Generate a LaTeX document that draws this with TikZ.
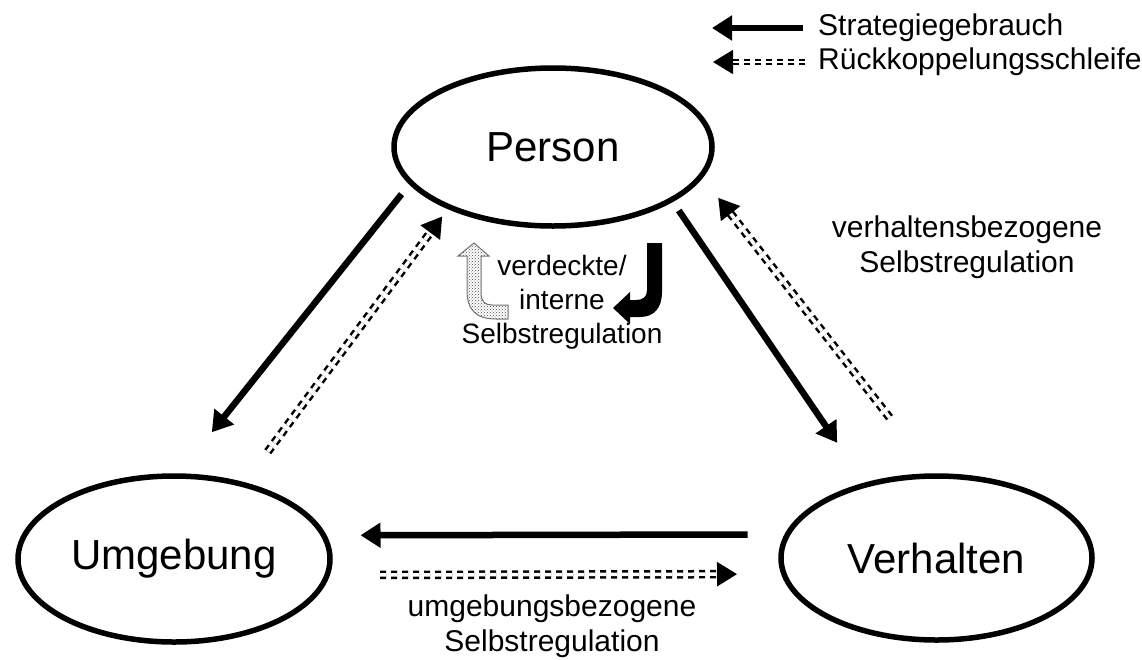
\documentclass[tikz,border=0pt]{standalone}
\usepackage{fontspec}
\setmainfont{Liberation Sans}
\usetikzlibrary{arrows.meta,shapes.geometric,patterns,positioning}

\begin{document}
\begin{tikzpicture}[x=1pt, y=-1pt, >={Triangle[length=20pt,width=24pt]}]
\tikzstyle{every node}=[font=\fontsize{30}{35}\selectfont]
\tikzstyle{bubble}=[ellipse,draw=black,line width=5.5pt,inner sep=0pt,outer sep=0pt,font=\fontsize{42}{48}\selectfont]
\tikzstyle{strat}=[->,line width=6.5pt]
\tikzstyle{fback}=[-{Triangle[length=20pt,width=24pt]},line width=2.5pt,double distance=3.5pt,dash pattern=on 6pt off 5pt]
\useasboundingbox (0,0) rectangle (1142,659);

\node[bubble,minimum width=318pt,minimum height=158pt] (P) at (553,147) {Person};
\node[bubble,minimum width=312pt,minimum height=166pt] (U) at (174,559) {Umgebung};
\node[bubble,minimum width=311pt,minimum height=164pt] (V) at (936.5,558) {Verhalten};

\node[align=center] (vb) at (967,247) {verhaltensbezogene\\Selbstregulation};
\node[align=center] (ub) at (552,626) {umgebungsbezogene\\Selbstregulation};
\node[align=center,font=\fontsize{28}{34}\selectfont] (iv) at (562,302) {verdeckte/\\interne\\Selbstregulation};

\node[anchor=west,inner sep=0pt] (l1) at (818,28) {Strategiegebrauch};
\node[anchor=west,inner sep=0pt] (l2) at (818,62) {Rückkoppelungsschleife};
\coordinate (e1) at (712,28);
\coordinate (e2) at (713,62);

\path
(P.194) edge[strat,shorten <=15pt,shorten >=56pt] (U.88)
(U.47)  edge[fback,shorten <=41pt,shorten >=12pt] (P.210)
(P.336) edge[strat,shorten <=13pt,shorten >=51pt] (V.134)
(V.91)  edge[fback,shorten <=74pt,shorten >=28pt] (P.349)
(V.171) edge[strat,shorten <=40pt,shorten >=37pt] (U.9)
(U.354) edge[fback,shorten <=53pt,shorten >=47pt] (V.186)
(l1.west) edge[strat,line width=6pt,shorten <=15pt] (e1)
(l2.west) edge[fback,line width=1.5pt,double distance=2.5pt,shorten <=13pt] (e2);

\draw[draw=black!55,line width=1pt,pattern=crosshatch dots,pattern color=black!70]
(508,305) -- (492,305) .. controls (485,305) and (481,301) .. (481,294) -- (481,256) -- (489,256)
-- (474,243) -- (458,256) -- (467,256) -- (467,290) .. controls (467,310) and (476,319) .. (496,319)
-- (508,319) -- cycle;
\fill[black]
(647,243) -- (662,243) -- (662,292) .. controls (662,308) and (654,317) .. (640,317) -- (630,317)
-- (630,324) -- (613,308) -- (630,292) -- (630,300) -- (636,300) .. controls (643,300) and (647,297) .. (647,290)
-- cycle;
\end{tikzpicture}
\end{document}
